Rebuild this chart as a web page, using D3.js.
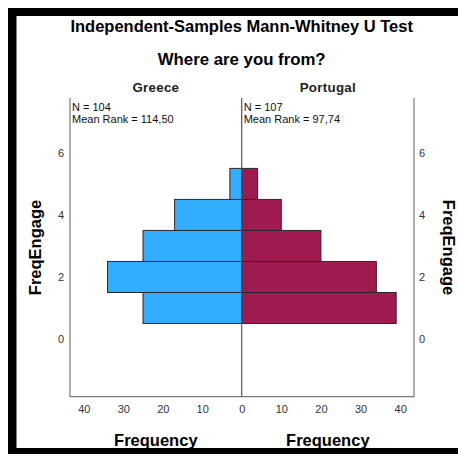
<!DOCTYPE html>
<html>
<head>
<meta charset="utf-8">
<script src="https://cdn.jsdelivr.net/npm/d3@7"></script>
<style>
  body { margin: 0; background: #fff; }
  svg text { font-family: "Liberation Sans", Arial, sans-serif; }
</style>
</head>
<body>
<div id="vis"></div>
<script>
// data
var bins = [1, 2, 3, 4, 5];
var greece = [25, 34, 25, 17, 3];
var portugal = [39, 34, 20, 10, 4];
var groups = ["Greece", "Portugal"];
var groupInfo = [["N = 104", "Mean Rank = 114,50"], ["N = 107", "Mean Rank = 97,74"]];
var yTicks = [0, 2, 4, 6];
var xTicks = [0, 10, 20, 30, 40];

var w = 458, h = 454;
var pLeft = 70, pMid = 241.7, pRight = 414, pTop = 98, pBottom = 396.7;

var svg = d3.select("#vis").append("svg")
    .attr("width", w)
    .attr("height", h);

var xL = d3.scaleLinear().domain([0, 43.5]).range([pMid, pLeft]);
var xR = d3.scaleLinear().domain([0, 43.5]).range([pMid, pRight]);
var y = d3.scaleLinear().domain([-1.86, 7.77]).range([pBottom, pTop]);

// titles
svg.append("text").attr("x", pMid).attr("y", 32)
    .attr("text-anchor", "middle").style("font-size", "16.5px").style("font-weight", "bold")
    .text("Independent-Samples Mann-Whitney U Test");
svg.append("text").attr("x", pMid).attr("y", 65)
    .attr("text-anchor", "middle").style("font-size", "16.8px").style("font-weight", "bold")
    .text("Where are you from?");

// panel headers
[xL, xR].forEach(function (sc, i) {
    var cx = (sc.range()[0] + sc.range()[1]) / 2;
    svg.append("text").attr("x", cx).attr("y", 92)
        .attr("text-anchor", "middle").style("font-size", "13.3px").style("font-weight", "bold")
        .style("fill", "#222").style("letter-spacing", "0.3px")
        .text(groups[i]);
});

// bars
function drawBars(vals, sc, col) {
    svg.append("g").selectAll("rect")
        .data(vals)
        .enter().append("rect")
        .attr("x", function (d) { return Math.min(sc(0), sc(d)); })
        .attr("width", function (d) { return Math.abs(sc(d) - sc(0)); })
        .attr("y", function (d, i) { return y(bins[i] + 0.5); })
        .attr("height", function (d, i) { return y(bins[i] - 0.5) - y(bins[i] + 0.5); })
        .attr("fill", col)
        .attr("stroke", "#2a2a2a")
        .attr("stroke-width", 1);
}
drawBars(greece, xL, "#33adff");
drawBars(portugal, xR, "#9e1a4f");

// frame lines
var lines = svg.append("g").attr("stroke", "#777").attr("stroke-width", 1.2);
lines.append("line").attr("x1", pLeft).attr("x2", pLeft).attr("y1", pTop).attr("y2", pBottom);
lines.append("line").attr("x1", pRight).attr("x2", pRight).attr("y1", pTop).attr("y2", pBottom);
lines.append("line").attr("x1", pLeft).attr("x2", pRight).attr("y1", pBottom).attr("y2", pBottom);
svg.append("line").attr("x1", pMid).attr("x2", pMid).attr("y1", pTop).attr("y2", pBottom)
    .attr("stroke", "#555").attr("stroke-width", 1.2);

// N / mean rank
[pLeft, pMid].forEach(function (x0, i) {
    groupInfo[i].forEach(function (t, k) {
        svg.append("text").attr("x", x0 + 2).attr("y", 111 + k * 12)
            .style("font-size", "11px").style("fill", "#111")
            .text(t);
    });
});

// y axes
var yAxL = svg.append("g").attr("transform", "translate(" + 66 + ",0)")
    .call(d3.axisLeft(y).tickValues(yTicks).tickSize(0).tickPadding(2));
var yAxR = svg.append("g").attr("transform", "translate(" + 417 + ",0)")
    .call(d3.axisRight(y).tickValues(yTicks).tickSize(0).tickPadding(2));

// x axes
var xAxL = svg.append("g").attr("transform", "translate(0," + pBottom + ")")
    .call(d3.axisBottom(xL).tickValues(xTicks).tickSize(0).tickPadding(9));
var xAxR = svg.append("g").attr("transform", "translate(0," + pBottom + ")")
    .call(d3.axisBottom(xR).tickValues(xTicks.slice(1)).tickSize(0).tickPadding(9));

[yAxL, yAxR, xAxL, xAxR].forEach(function (g) {
    g.select(".domain").remove();
    g.selectAll("text").style("font-size", "11px").style("fill", "#333")
        .style("font-family", "'Liberation Sans', Arial, sans-serif");
});

// axis titles
svg.append("text").attr("transform", "translate(41,247.5)rotate(-90)")
    .attr("text-anchor", "middle").style("font-size", "16.5px").style("font-weight", "bold")
    .text("FreqEngage");
svg.append("text").attr("transform", "translate(443,247.5)rotate(90)")
    .attr("text-anchor", "middle").style("font-size", "16.5px").style("font-weight", "bold")
    .text("FreqEngage");
[xL, xR].forEach(function (sc) {
    var cx = (sc.range()[0] + sc.range()[1]) / 2;
    svg.append("text").attr("x", cx).attr("y", 446)
        .attr("text-anchor", "middle").style("font-size", "16.5px").style("font-weight", "bold")
        .text("Frequency");
});

// black border (left, top, bottom)
var border = svg.append("g").attr("fill", "#000");
border.append("rect").attr("x", 8).attr("y", 8).attr("width", w - 8).attr("height", 8);
border.append("rect").attr("x", 8).attr("y", 8).attr("width", 8.5).attr("height", h - 8);
border.append("rect").attr("x", 8).attr("y", 448).attr("width", w - 8).attr("height", 6);
</script>
</body>
</html>
